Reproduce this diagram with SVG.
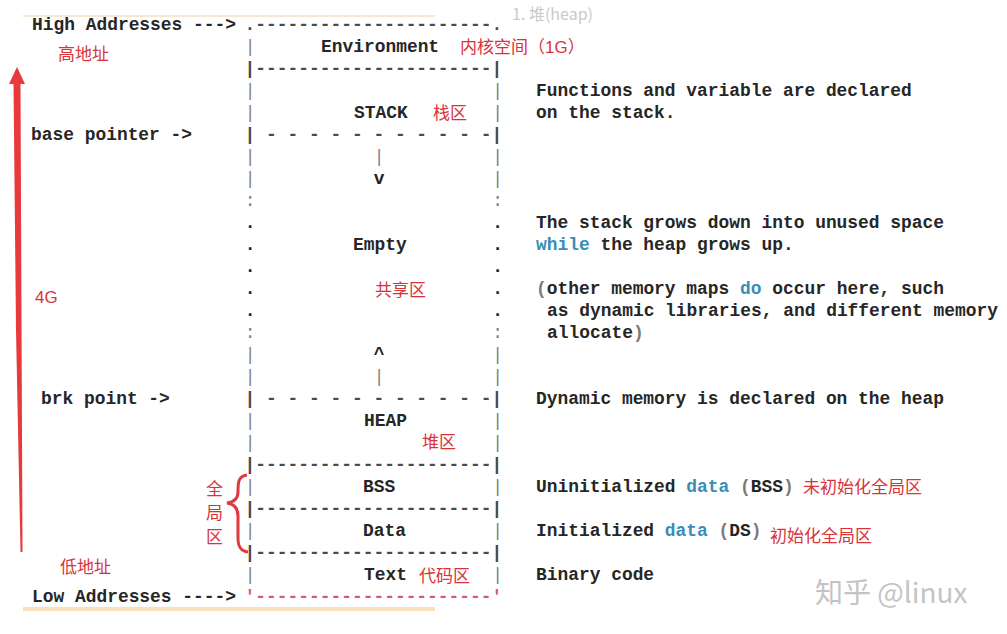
<svg xmlns="http://www.w3.org/2000/svg" width="1007" height="634" viewBox="0 0 1007 634" xml:space="preserve">
<style>
.m{font-family:"Liberation Mono","Courier New",monospace;font-size:17.9px;font-weight:bold;fill:#262626;white-space:pre}
.p{font-family:"Liberation Mono","Courier New",monospace;font-size:17.9px;fill:#7f7f7f;text-anchor:middle}
.d{font-family:"Liberation Mono","Courier New",monospace;font-size:17.9px;font-weight:bold;fill:#222;text-anchor:middle}
.s{font-family:"Liberation Mono","Courier New",monospace;font-size:17.9px;font-weight:bold;fill:#4a4a4a;white-space:pre}
.r{font-family:"Liberation Sans","Noto Sans CJK SC",sans-serif;font-size:17px;fill:#d8333b}
.k{fill:#3a8db5}
.g{fill:#7a7a7a}
</style>
<rect width="1007" height="634" fill="#ffffff"/>
<rect x="23" y="15" width="412" height="2" fill="#f6e7d2"/>
<rect x="23" y="607" width="412" height="4" fill="#f8dfbd"/>
<text x="512" y="20" font-family="Noto Sans CJK SC, sans-serif" font-size="16" fill="#cacaca">1. 堆(heap)</text>

<g id="left-labels">
<text class="m" x="32" y="30">High Addresses ---&gt;</text>
<text class="m" x="31" y="140">base pointer -&gt;</text>
<text class="m" x="41" y="404">brk point -&gt;</text>
<text class="m" x="32" y="602">Low Addresses ----&gt;</text>
<text class="r" x="58" y="60">高地址</text>
<text class="r" x="35" y="303">4G</text>
<text class="r" x="60" y="573">低地址</text>
<text class="r" x="206" y="495">全</text>
<text class="r" x="206" y="519">局</text>
<text class="r" x="206" y="543">区</text>
</g>

<g id="memory-box">
<text class="s" x="244.6" y="30" fill="#333">.----------------------.</text>
<text class="p" x="250" y="52">|</text>
<text class="s" x="244.6" y="74">|----------------------|</text>
<text class="p" x="250" y="96">|</text><text class="p" x="497.7" y="96">|</text>
<text class="p" x="250" y="118">|</text><text class="p" x="497.7" y="118">|</text>
<text class="s" x="244.6" y="140">| - - - - - - - - - - -|</text>
<text class="p" x="250" y="162">|</text><text class="p" x="497.7" y="162">|</text>
<text class="p" x="250" y="184">|</text><text class="p" x="497.7" y="184">|</text>
<text class="p" x="250" y="206">:</text><text class="p" x="497.7" y="206">:</text>
<text class="d" x="250" y="228">.</text><text class="d" x="497.7" y="228">.</text>
<text class="d" x="250" y="250">.</text><text class="d" x="497.7" y="250">.</text>
<text class="d" x="250" y="272">.</text><text class="d" x="497.7" y="272">.</text>
<text class="d" x="250" y="294">.</text><text class="d" x="497.7" y="294">.</text>
<text class="d" x="250" y="316">.</text><text class="d" x="497.7" y="316">.</text>
<text class="p" x="250" y="338">:</text><text class="p" x="497.7" y="338">:</text>
<text class="p" x="250" y="360">|</text><text class="p" x="497.7" y="360">|</text>
<text class="p" x="250" y="382">|</text><text class="p" x="497.7" y="382">|</text>
<text class="s" x="244.6" y="404">| - - - - - - - - - - -|</text>
<text class="p" x="250" y="426">|</text><text class="p" x="497.7" y="426">|</text>
<text class="p" x="250" y="448">|</text><text class="p" x="497.7" y="448">|</text>
<text class="s" x="244.6" y="470">|----------------------|</text>
<text class="p" x="250" y="492">|</text><text class="p" x="497.7" y="492">|</text>
<text class="s" x="244.6" y="514">|----------------------|</text>
<text class="p" x="250" y="536">|</text><text class="p" x="497.7" y="536">|</text>
<text class="s" x="244.6" y="558">|----------------------|</text>
<text class="p" x="250" y="580">|</text><text class="p" x="497.7" y="580">|</text>
<text class="s" x="244.6" y="602" style="fill:#d9557a">'----------------------'</text>
</g>

<g id="seg-environment">
<text class="m" x="321" y="52">Environment</text>
<text class="r" x="460" y="53">内核空间（1G）</text>
</g>
<g id="seg-stack">
<text class="m" x="354" y="118">STACK</text>
<text class="r" x="433" y="119">栈区</text>
<text class="p" x="379" y="162">|</text>
<text class="d" x="379" y="184">v</text>
</g>
<g id="seg-empty">
<text class="m" x="353" y="250">Empty</text>
<text class="r" x="375" y="296">共享区</text>
<text class="d" x="379" y="360">^</text>
<text class="p" x="379" y="382">|</text>
</g>
<g id="seg-heap">
<text class="m" x="364" y="426">HEAP</text>
<text class="r" x="422" y="448">堆区</text>
</g>
<g id="seg-bss"><text class="m" x="363" y="492">BSS</text></g>
<g id="seg-data"><text class="m" x="363" y="536">Data</text></g>
<g id="seg-text">
<text class="m" x="364" y="580">Text</text>
<text class="r" x="419" y="582">代码区</text>
</g>

<g id="descriptions">
<text class="m" x="536" y="96">Functions and variable are declared</text>
<text class="m" x="536" y="118">on the stack.</text>
<text class="m" x="536" y="228">The stack grows down into unused space</text>
<text class="m" x="536" y="250"><tspan class="k">while</tspan> the heap grows up.</text>
<text class="m" x="536" y="294"><tspan class="g">(</tspan>other memory maps <tspan class="k">do</tspan> occur here, such</text>
<text class="m" x="547" y="316">as dynamic libraries, and different memory</text>
<text class="m" x="547" y="338">allocate<tspan class="g">)</tspan></text>
<text class="m" x="536" y="404">Dynamic memory is declared on the heap</text>
<text class="m" x="536" y="492">Uninitialized <tspan class="k">data</tspan> <tspan class="g">(</tspan>BSS<tspan class="g">)</tspan></text>
<text class="r" x="803" y="493">未初始化全局区</text>
<text class="m" x="536" y="536">Initialized <tspan class="k">data</tspan> <tspan class="g">(</tspan>DS<tspan class="g">)</tspan></text>
<text class="r" x="770" y="542">初始化全局区</text>
<text class="m" x="536" y="580">Binary code</text>
</g>

<g id="connectors">
<polygon points="17,67 25,84 9,84" fill="#e8393c"/>
<polygon points="13.5,83 20.5,83 22.5,552 20.5,552 16,330" fill="#e8393c"/>
<path d="M247,475 C238,476 238,483 238,492 C238,499 234,502 227,503 C234,504 238,508 238,516 L238,538 C238,546 240,551 248,552" fill="none" stroke="#e0393e" stroke-width="3"/>
</g>

<text x="815" y="603" font-family="Noto Sans CJK SC, sans-serif" font-size="28" fill="#c4c4c4">知乎 @linux</text>
</svg>
